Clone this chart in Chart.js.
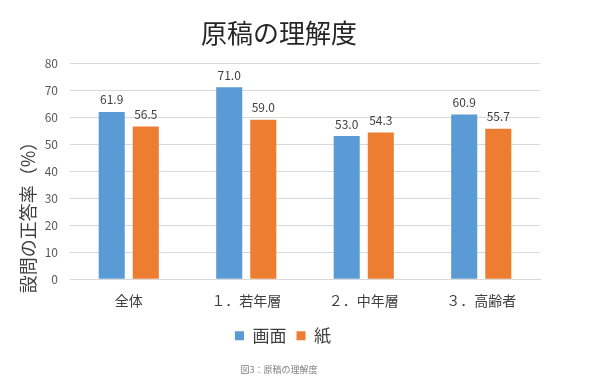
<!DOCTYPE html>
<html>
<head>
<meta charset="utf-8">
<script src="https://cdn.jsdelivr.net/npm/chart.js@4/dist/chart.umd.min.js"></script>
<style>
html,body{margin:0;padding:0;background:#fff;}
#wrap{width:590px;height:389px;position:relative;}
</style>
</head>
<body>
<div id="wrap"><canvas id="c" width="590" height="389"></canvas></div>
<script>
const chartTitle = '原稿の理解度';
const yAxisTitle = '設問の正答率（%）';
const caption = '図3：原稿の理解度';
const categories = ['全体', '１．若年層', '２．中年層', '３．高齢者'];
const seriesNames = ['画面', '紙'];
const screenValues = [61.9, 71.0, 53.0, 60.9];
const paperValues = [56.5, 59.0, 54.3, 55.7];
const yTicks = [0, 10, 20, 30, 40, 50, 60, 70, 80];

const JP = '"Noto Sans CJK JP", "Noto Sans", sans-serif';

const shiftPlugin = {
  id: 'shiftBlocks',
  beforeDraw(chart) {
    if (chart.titleBlock) { chart.titleBlock.left = 0; chart.titleBlock.right = 558; }
    if (chart.legend) { chart.legend.left = 0; chart.legend.right = 566; }
    const sub = chart.boxes.find(b => b.options && b.options.text === caption);
    if (sub) { sub.left = 0; sub.right = 558; }
  }
};

const labelPlugin = {
  id: 'valueLabels',
  afterDatasetsDraw(chart) {
    const ctx = chart.ctx;
    ctx.save();
    ctx.font = '12px ' + JP;
    ctx.fillStyle = '#404040';
    ctx.textAlign = 'center';
    ctx.textBaseline = 'middle';
    chart.data.datasets.forEach((ds, i) => {
      const meta = chart.getDatasetMeta(i);
      meta.data.forEach((el, j) => {
        ctx.fillText(ds.data[j].toFixed(1), el.x, el.y - 12);
      });
    });
    // y-axis title
    ctx.font = '18px ' + JP;
    ctx.fillStyle = '#404040';
    ctx.translate(28, 213);
    ctx.rotate(-Math.PI / 2);
    ctx.fillText(yAxisTitle, 0, 0);
    ctx.restore();
  }
};

new Chart(document.getElementById('c'), {
  type: 'bar',
  data: {
    labels: categories,
    datasets: [
      { label: seriesNames[0], data: screenValues, backgroundColor: '#5B9BD5', categoryPercentage: 0.58, barPercentage: 0.765 },
      { label: seriesNames[1], data: paperValues, backgroundColor: '#ED7D31', categoryPercentage: 0.58, barPercentage: 0.765 }
    ]
  },
  options: {
    responsive: false,
    animation: false,
    layout: { padding: { left: 0, right: 50, top: 0, bottom: 0 } },
    plugins: {
      title: {
        display: true, text: chartTitle, color: '#262626',
        font: { family: JP, size: 26, weight: 'normal', lineHeight: 1.2 },
        padding: { top: 18, bottom: 13.8 }
      },
      subtitle: {
        display: true, text: caption, position: 'bottom', color: '#808080',
        font: { family: JP, size: 9, weight: 'normal', lineHeight: 1.2 },
        padding: { top: 10, bottom: 14 }
      },
      legend: {
        position: 'bottom',
        labels: { boxWidth: 9, boxHeight: 9, padding: 10, color: '#404040', font: { family: JP, size: 17 } }
      },
      tooltip: { enabled: false }
    },
    scales: {
      x: {
        grid: { display: false, drawTicks: false },
        border: { display: true, color: '#D9D9D9' },
        ticks: { color: '#404040', padding: 13, font: { family: JP, size: 14 } },
        afterFit(s) { s.height = 38; }
      },
      y: {
        min: 0, max: 80,
        afterBuildTicks(s) { s.ticks = yTicks.map(v => ({ value: v })); },
        grid: { color: '#D9D9D9', drawTicks: false },
        border: { display: false },
        ticks: { color: '#595959', padding: 12, font: { family: JP, size: 12 } },
        afterFit(s) { s.width = 70; }
      }
    }
  },
  plugins: [shiftPlugin, labelPlugin]
});
</script>
</body>
</html>
